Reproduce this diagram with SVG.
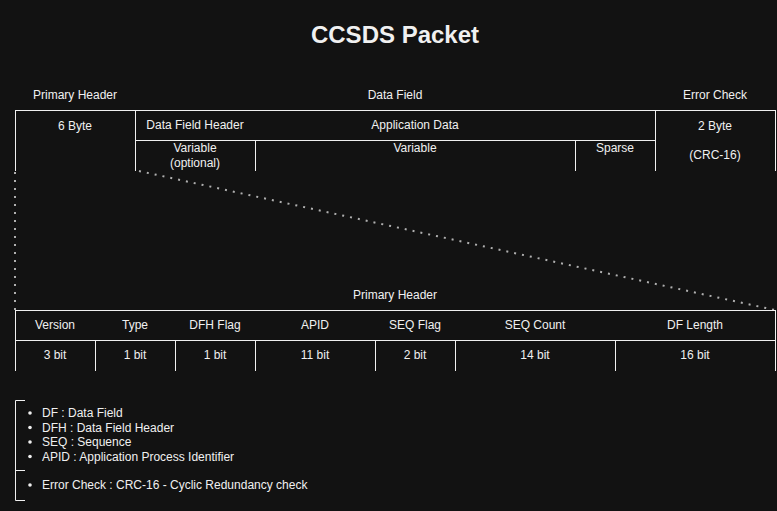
<svg xmlns="http://www.w3.org/2000/svg" width="777" height="511" viewBox="0 0 777 511">
<style>
text{font-family:"Liberation Sans",Arial,sans-serif;fill:#f0f0f0;font-size:12px;text-anchor:middle}
.title{font-size:24px;font-weight:bold}
.ln{stroke:#f0f0f0;stroke-width:1;fill:none}
.dot{stroke:#b0b0b0;stroke-width:2;stroke-dasharray:2 6;fill:none}
.lg{text-anchor:start}
</style>
<rect width="777" height="511" fill="#121212"/>
<text class="title" x="395" y="43">CCSDS Packet</text>
<g id="packet">
<text x="75" y="99">Primary Header</text>
<text x="395" y="99">Data Field</text>
<text x="715" y="99">Error Check</text>
<path class="ln" d="M15 110.5H775.5M15.5 110V171M135.5 110V171M655.5 110V171M775.5 110V171M135 140.5H656M255.5 140V171M575.5 140V171"/>
<text x="75" y="130">6 Byte</text>
<text x="195" y="129">Data Field Header</text>
<text x="415" y="129">Application Data</text>
<text x="715" y="130">2 Byte</text>
<text x="195" y="152">Variable</text>
<text x="195" y="167">(optional)</text>
<text x="415" y="152">Variable</text>
<text x="615" y="152">Sparse</text>
<text x="715" y="159">(CRC-16)</text>
</g>
<g id="connectors">
<path class="dot" d="M15 172V310"/>
<path class="dot" d="M139 171L775 310"/>
</g>
<g id="primary-header">
<text x="395" y="299">Primary Header</text>
<path class="ln" d="M15 310.5H776M15 340.5H776M15.5 310V371M775.5 310V371M95.5 340V371M175.5 340V371M255.5 340V371M375.5 340V371M455.5 340V371M615.5 340V371"/>
<text x="55" y="329">Version</text>
<text x="135" y="329">Type</text>
<text x="215" y="329">DFH Flag</text>
<text x="315" y="329">APID</text>
<text x="415" y="329">SEQ Flag</text>
<text x="535" y="329">SEQ Count</text>
<text x="695" y="329">DF Length</text>
<text x="55" y="359">3 bit</text>
<text x="135" y="359">1 bit</text>
<text x="215" y="359">1 bit</text>
<text x="315" y="359">11 bit</text>
<text x="415" y="359">2 bit</text>
<text x="535" y="359">14 bit</text>
<text x="695" y="359">16 bit</text>
</g>
<g id="legend">
<path class="ln" d="M25 400.5H15.5V500.5H25M15 470.5H25"/>
<circle cx="30" cy="413" r="1.8" fill="#f0f0f0"/>
<circle cx="30" cy="427.5" r="1.8" fill="#f0f0f0"/>
<circle cx="30" cy="442" r="1.8" fill="#f0f0f0"/>
<circle cx="30" cy="456.5" r="1.8" fill="#f0f0f0"/>
<circle cx="30" cy="485" r="1.8" fill="#f0f0f0"/>
<text class="lg" x="42" y="417">DF : Data Field</text>
<text class="lg" x="42" y="431.5">DFH : Data Field Header</text>
<text class="lg" x="42" y="446">SEQ : Sequence</text>
<text class="lg" x="42" y="460.5">APID : Application Process Identifier</text>
<text class="lg" x="42" y="489">Error Check : CRC-16 - Cyclic Redundancy check</text>
</g>
</svg>
